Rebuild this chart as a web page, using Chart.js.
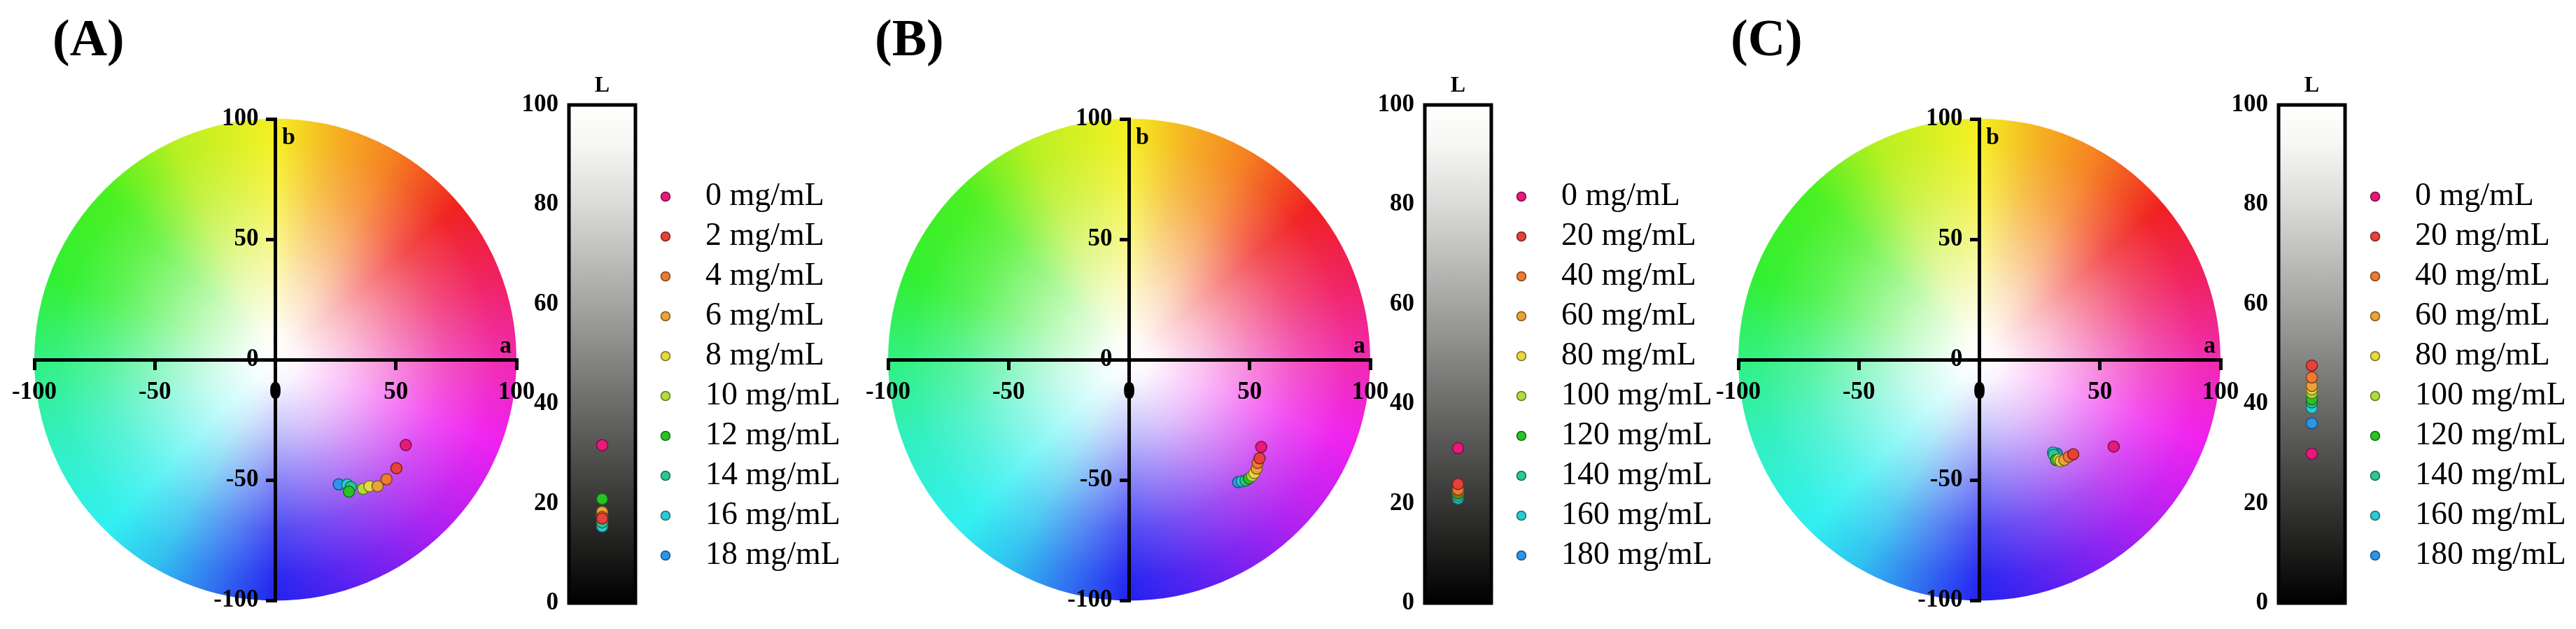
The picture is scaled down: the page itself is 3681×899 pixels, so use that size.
<!DOCTYPE html>
<html lang="en">
<head>
<meta charset="UTF-8">
<title>CIELab</title>
<script src="https://cdn.jsdelivr.net/npm/chart.js"></script>
<style>
    body {
        margin: 0;
        width: 3681px;
        height: 899px;
        background: #ffffff;
        position: relative;
        overflow: hidden;
        font-family: "Liberation Serif", serif;
    }

    canvas {
        position: absolute;
        top: 0;
    }

    .panel-title {
        position: absolute;
        top: 17px;
        font-size: 74px;
        font-weight: bold;
        line-height: 1;
        color: #000;
    }
</style>
</head>
<body>
<div class="panel-title" id="titleA"></div>
<div class="panel-title" id="titleB"></div>
<div class="panel-title" id="titleC"></div>
<canvas id="wheelA" width="800" height="899"></canvas>
<canvas id="lightA" width="600" height="899"></canvas>
<canvas id="wheelB" width="800" height="899"></canvas>
<canvas id="lightB" width="600" height="899"></canvas>
<canvas id="wheelC" width="800" height="899"></canvas>
<canvas id="lightC" width="600" height="899"></canvas>

<script>
    // data
    const panelTitles = ['(A)', '(B)', '(C)'];

    const concA = ['0 mg/mL', '2 mg/mL', '4 mg/mL', '6 mg/mL', '8 mg/mL', '10 mg/mL', '12 mg/mL', '14 mg/mL', '16 mg/mL', '18 mg/mL'];
    const concB = ['0 mg/mL', '20 mg/mL', '40 mg/mL', '60 mg/mL', '80 mg/mL', '100 mg/mL', '120 mg/mL', '140 mg/mL', '160 mg/mL', '180 mg/mL'];
    const concC = ['0 mg/mL', '20 mg/mL', '40 mg/mL', '60 mg/mL', '80 mg/mL', '100 mg/mL', '120 mg/mL', '140 mg/mL', '160 mg/mL', '180 mg/mL'];

    const aStarA = [54.1, 50.2, 46.1, 42.4, 39.0, 36.4, 30.5, 31.3, 29.8, 26.3];
    const bStarA = [-35.5, -45.1, -49.7, -52.6, -52.6, -53.7, -54.8, -52.9, -51.9, -51.8];
    const lStarA = [31.7, 17.0, 17.3, 18.3, 17.8, 17.5, 20.9, 16.2, 15.4, 16.7];

    const aStarB = [54.8, 54.1, 53.3, 52.9, 51.9, 51.0, 49.7, 48.3, 46.8, 45.2];
    const bStarB = [-36.3, -41.0, -42.9, -45.3, -47.1, -48.3, -49.4, -50.2, -50.5, -50.9];
    const lStarB = [31.1, 23.9, 22.8, 22.6, 22.4, 22.3, 22.0, 21.5, 21.0, 22.5];

    const aStarC = [55.7, 38.9, 37.1, 35.2, 33.7, 32.8, 31.8, 30.8, 30.5, 32.1];
    const bStarC = [-36.1, -39.3, -40.3, -41.7, -42.2, -41.5, -41.7, -39.5, -38.6, -39.0];
    const lStarC = [30.0, 47.7, 45.3, 43.6, 42.9, 42.2, 40.9, 40.3, 39.2, 36.1];

    const abTicks = [-100, -50, 0, 50, 100];
    const lTicks = [0, 20, 40, 60, 80, 100];

    // styles
    const pointColors = ['#e8197c', '#e8403a', '#f07a30', '#eba23a', '#e6d83e', '#b2dc3c', '#26c426', '#2ac896', '#2ccad2', '#2a96e8'];
    const pointBorders = ['#7a1040', '#7a2420', '#7c441c', '#7a5a22', '#7a7224', '#5e7a22', '#166a16', '#186c50', '#186e72', '#185282'];

    const hueStops = [
        [0.000, '#f02ab0'], [0.056, '#f020f0'], [0.125, '#b020f0'], [0.194, '#6020f0'],
        [0.250, '#2222f0'], [0.292, '#3070f0'], [0.333, '#30c0f0'], [0.375, '#30f0f0'],
        [0.444, '#30f0c0'], [0.500, '#30f080'], [0.556, '#30f030'], [0.625, '#48f020'],
        [0.681, '#b8f020'], [0.750, '#f5f020'], [0.792, '#f5b020'], [0.833, '#f58020'],
        [0.889, '#f02020'], [0.944, '#f02060'], [1.000, '#f02ab0']
    ];
    const greyStops = [[0, '#ffffff'], [0.08, '#f6f6f4'], [0.2, '#dadad8'], [0.4, '#a4a4a2'], [0.6, '#6c6c6a'], [0.8, '#363634'], [1, '#000000']];

    const serif = '"Liberation Serif", "Times New Roman", serif';
    const tickFont = { family: serif, size: 35, weight: 'bold' };
    const legendFont = { family: serif, size: 46 };

    // panel placement on the page
    const panelOffsets = [0, 1220, 2435];
    const titleOffsets = [75, 30, 38];
    const barOffsets = [690, 693, 698];

    const wheelBackground = {
        id: 'wheelBackground',
        beforeDraw(chart) {
            const { ctx, scales: { x, y } } = chart;
            const cx = x.getPixelForValue(0);
            const cy = y.getPixelForValue(0);
            const r = x.getPixelForValue(100) - cx;
            ctx.save();
            ctx.beginPath();
            ctx.arc(cx, cy, r, 0, Math.PI * 2);
            if (ctx.createConicGradient) {
                const hue = ctx.createConicGradient(0, cx, cy);
                hueStops.forEach(s => hue.addColorStop(s[0], s[1]));
                ctx.fillStyle = hue;
                ctx.fill();
            } else {
                for (let i = 0; i < hueStops.length - 1; i++) {
                    ctx.beginPath();
                    ctx.moveTo(cx, cy);
                    ctx.arc(cx, cy, r, hueStops[i][0] * Math.PI * 2, hueStops[i + 1][0] * Math.PI * 2 + 0.01);
                    ctx.fillStyle = hueStops[i][1];
                    ctx.fill();
                }
                ctx.beginPath();
                ctx.arc(cx, cy, r, 0, Math.PI * 2);
            }
            const white = ctx.createRadialGradient(cx, cy, 0, cx, cy, r);
            white.addColorStop(0, 'rgba(255,255,255,1)');
            white.addColorStop(0.1, 'rgba(255,255,255,0.95)');
            white.addColorStop(0.3, 'rgba(255,255,255,0.72)');
            white.addColorStop(0.5, 'rgba(255,255,255,0.45)');
            white.addColorStop(0.7, 'rgba(255,255,255,0.2)');
            white.addColorStop(0.9, 'rgba(255,255,255,0.03)');
            white.addColorStop(1, 'rgba(255,255,255,0)');
            ctx.fillStyle = white;
            ctx.fill();
            ctx.restore();
        },
        afterDraw(chart) {
            const { ctx, scales: { x, y } } = chart;
            ctx.save();
            ctx.fillStyle = '#000';
            ctx.font = 'bold 34px ' + serif;
            ctx.textAlign = 'center';
            ctx.textBaseline = 'middle';
            ctx.fillText('a', x.getPixelForValue(95.5), y.getPixelForValue(5.5));
            ctx.fillText('b', x.getPixelForValue(5.5), y.getPixelForValue(92));
            ctx.restore();
        }
    };

    const lightnessBar = {
        id: 'lightnessBar',
        beforeDraw(chart) {
            const { ctx, chartArea: { left, top, right, bottom } } = chart;
            ctx.save();
            const g = ctx.createLinearGradient(0, top, 0, bottom);
            greyStops.forEach(s => g.addColorStop(s[0], s[1]));
            ctx.fillStyle = g;
            ctx.fillRect(left, top, right - left, bottom - top);
            ctx.lineWidth = 5;
            ctx.strokeStyle = '#000';
            ctx.strokeRect(left, top, right - left, bottom - top);
            ctx.restore();
        }
    };

    function legendMarker(i) {
        const c = document.createElement('canvas');
        c.width = 66;
        c.height = 20;
        const g = c.getContext('2d');
        g.beginPath();
        g.arc(32, 10, 6.5, 0, Math.PI * 2);
        g.fillStyle = pointColors[i];
        g.fill();
        g.lineWidth = 1.5;
        g.strokeStyle = pointBorders[i];
        g.stroke();
        return c;
    }
    const legendMarkers = pointColors.map((c, i) => legendMarker(i));

    function textWidth(labels) {
        const g = document.createElement('canvas').getContext('2d');
        g.font = legendFont.size + 'px ' + serif;
        return Math.max(...labels.map(t => g.measureText(t).width));
    }

    function drawWheel(id, labels, aVals, bVals) {
        new Chart(document.getElementById(id), {
            type: 'scatter',
            data: {
                datasets: labels.map((lab, i) => ({
                    label: lab,
                    data: [{ x: aVals[i], y: bVals[i] }],
                    backgroundColor: pointColors[i],
                    borderColor: pointBorders[i],
                    borderWidth: 1.5,
                    pointRadius: 8
                }))
            },
            options: {
                responsive: false,
                animation: false,
                layout: { padding: { left: 49, right: 62, top: 170, bottom: 41 } },
                plugins: { legend: { display: false }, tooltip: { enabled: false } },
                scales: {
                    x: {
                        type: 'linear',
                        position: 'center',
                        min: -100,
                        max: 100,
                        afterBuildTicks: s => { s.ticks = abTicks.map(v => ({ value: v })); },
                        afterFit: s => { s.height = 0; },
                        ticks: { font: tickFont, color: '#000', padding: 14, maxRotation: 0 },
                        grid: { drawOnChartArea: false, drawTicks: true, tickLength: 12, lineWidth: 5, color: '#000' },
                        border: { display: true, width: 5, color: '#000' }
                    },
                    y: {
                        type: 'linear',
                        position: 'center',
                        min: -100,
                        max: 100,
                        afterBuildTicks: s => { s.ticks = abTicks.map(v => ({ value: v })); },
                        afterFit: s => { s.width = 0; },
                        ticks: { font: tickFont, color: '#000', padding: 13 },
                        grid: { drawOnChartArea: false, drawTicks: true, tickLength: 11, lineWidth: 5, color: '#000' },
                        border: { display: true, width: 5, color: '#000' }
                    }
                }
            },
            plugins: [wheelBackground]
        });
    }

    function drawLightness(id, labels, lVals) {
        const canvasW = 600;
        const areaRight = 217;
        const legendW = 12 + 66 + legendFont.size / 2 + textWidth(labels) + 10;
        const base = Chart.defaults.plugins.legend.labels.generateLabels;
        new Chart(document.getElementById(id), {
            type: 'line',
            data: {
                labels: ['L'],
                datasets: labels.map((lab, i) => ({
                    label: lab,
                    data: [lVals[i]],
                    showLine: false,
                    pointRadius: 8,
                    pointBorderWidth: 1.5,
                    pointBackgroundColor: pointColors[i],
                    pointBorderColor: pointBorders[i],
                    backgroundColor: pointColors[i],
                    borderColor: pointBorders[i]
                }))
            },
            options: {
                responsive: false,
                animation: false,
                layout: { padding: { left: 13, right: canvasW - areaRight - legendW, top: 90, bottom: 37 } },
                plugins: {
                    tooltip: { enabled: false },
                    legend: {
                        position: 'right',
                        align: 'start',
                        fullSize: false,
                        maxWidth: 500,
                        title: { display: true, text: ' ', font: { size: 10, lineHeight: 1 }, padding: { top: 87, bottom: 0 } },
                        labels: {
                            usePointStyle: true,
                            pointStyleWidth: 66,
                            boxHeight: 20,
                            padding: 11,
                            color: '#000',
                            font: legendFont,
                            generateLabels: chart => base(chart).map(item => Object.assign(item, { pointStyle: legendMarkers[item.datasetIndex] }))
                        }
                    }
                },
                scales: {
                    x: {
                        type: 'category',
                        position: 'top',
                        offset: true,
                        afterFit: s => { s.height = 60; },
                        ticks: { font: { family: serif, size: 32, weight: 'bold' }, color: '#000', padding: 8 },
                        grid: { display: false, drawTicks: false },
                        border: { display: false }
                    },
                    y: {
                        min: 0,
                        max: 100,
                        afterBuildTicks: s => { s.ticks = lTicks.map(v => ({ value: v })); },
                        afterFit: s => { s.width = 110; },
                        ticks: { font: tickFont, color: '#000', padding: 15 },
                        grid: { display: false, drawTicks: false },
                        border: { display: false }
                    }
                }
            },
            plugins: [lightnessBar]
        });
    }

    const panelData = [
        ['A', concA, aStarA, bStarA, lStarA],
        ['B', concB, aStarB, bStarB, lStarB],
        ['C', concC, aStarC, bStarC, lStarC]
    ];

    panelData.forEach((p, k) => {
        const off = panelOffsets[k];
        const title = document.getElementById('title' + p[0]);
        title.textContent = panelTitles[k];
        title.style.left = (off + titleOffsets[k]) + 'px';
        document.getElementById('wheel' + p[0]).style.left = off + 'px';
        document.getElementById('light' + p[0]).style.left = (off + barOffsets[k]) + 'px';
        drawWheel('wheel' + p[0], p[1], p[2], p[3]);
        drawLightness('light' + p[0], p[1], p[4]);
    });
</script>
</body>
</html>
